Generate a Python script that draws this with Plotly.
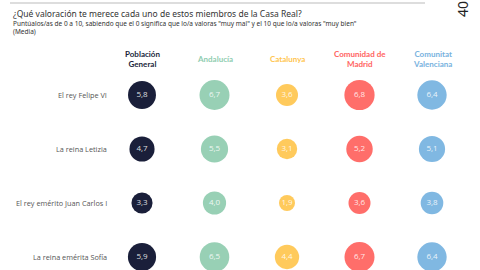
import plotly.graph_objects as go
import numpy as np

regions = ["Población<br>General", "Andalucía", "Catalunya", "Comunidad de<br>Madrid", "Comunitat<br>Valenciana"]
members = ["El rey Felipe VI", "La reina Letizia", "El rey emérito Juan Carlos I", "La reina emérita Sofía"]
values = {
    "Población General": [5.8, 4.7, 3.3, 5.9],
    "Andalucía": [6.7, 5.5, 4.0, 6.5],
    "Catalunya": [3.6, 3.1, 1.9, 4.4],
    "Comunidad de Madrid": [6.8, 5.2, 3.6, 6.7],
    "Comunitat Valenciana": [6.4, 5.1, 3.8, 6.4],
}
colors = ["#1a1f3a", "#98d0b5", "#ffca5c", "#ff6e6a", "#80b8e2"]
header_colors = ["#1a1f3a", "#8fcdb0", "#ffc54f", "#ff6461", "#78b2de"]

fig = go.Figure()
for i, (name, vals) in enumerate(values.items()):
    v = np.array(vals)
    fig.add_trace(go.Scatter(
        x=[i] * len(vals), y=list(range(len(vals))),
        mode="markers+text",
        marker=dict(size=11.6 * np.sqrt(v), sizemode="diameter", color=colors[i], opacity=1, line=dict(width=0)),
        text=[f"{x:.1f}".replace(".", ",") for x in vals],
        textposition="middle center",
        textfont=dict(family="Open Sans", size=8, color="rgba(255,255,255,0.85)"),
        hoverinfo="skip", showlegend=False,
    ))

ann = []
for i, r in enumerate(regions):
    ann.append(dict(x=i, xref="x", y=1 - 59 / 270, yref="paper", text=f"<b>{r}</b>", showarrow=False,
                    font=dict(family="Lato", size=8, color=header_colors[i]), xanchor="center", yanchor="middle"))
for j, m in enumerate(members):
    ann.append(dict(x=109 / 480, xref="paper", y=j, yref="y", text=m, showarrow=False,
                    font=dict(family="Open Sans", size=7.3, color="#555555"), xanchor="right", yanchor="middle"))
ann.append(dict(x=11 / 480, xref="paper", y=1 - 13 / 270, yref="paper",
                text="¿Qué valoración te merece cada uno de estos miembros de la Casa Real?",
                showarrow=False, font=dict(family="Noto Sans", size=8.5, color="#333333"), xanchor="left", yanchor="middle"))
ann.append(dict(x=11 / 480, xref="paper", y=1 - 23.5 / 270, yref="paper",
                text="Puntúalos/as de 0 a 10, sabiendo que el 0 significa que lo/a valoras \"muy mal\" y el 10 que lo/a valoras \"muy bien\"",
                showarrow=False, font=dict(family="Noto Sans", size=6.5, color="#333333"), xanchor="left", yanchor="middle"))
ann.append(dict(x=11 / 480, xref="paper", y=1 - 31.5 / 270, yref="paper", text="(Media)",
                showarrow=False, font=dict(family="Noto Sans", size=6.5, color="#333333"), xanchor="left", yanchor="middle"))
ann.append(dict(x=462 / 480, xref="paper", y=1 - 19 / 270, yref="paper", text="40", textangle=-90,
                showarrow=False, font=dict(family="Noto Sans", size=14, color="#222222"), xanchor="center", yanchor="bottom"))

fig.update_layout(
    width=480, height=270, margin=dict(l=0, r=0, t=0, b=0),
    paper_bgcolor="white", plot_bgcolor="white",
    xaxis=dict(range=[-142 / 72.5, (480 - 142) / 72.5], visible=False, fixedrange=True),
    yaxis=dict(range=[(270 - 95) / 54, -95 / 54], visible=False, fixedrange=True),
    annotations=ann,
    shapes=[dict(type="line", xref="paper", yref="paper", x0=10 / 480, x1=425 / 480, y0=1 - 3 / 270, y1=1 - 3 / 270,
                 line=dict(color="#bbbbbb", width=1))],
)
fig.write_html("out.html")
